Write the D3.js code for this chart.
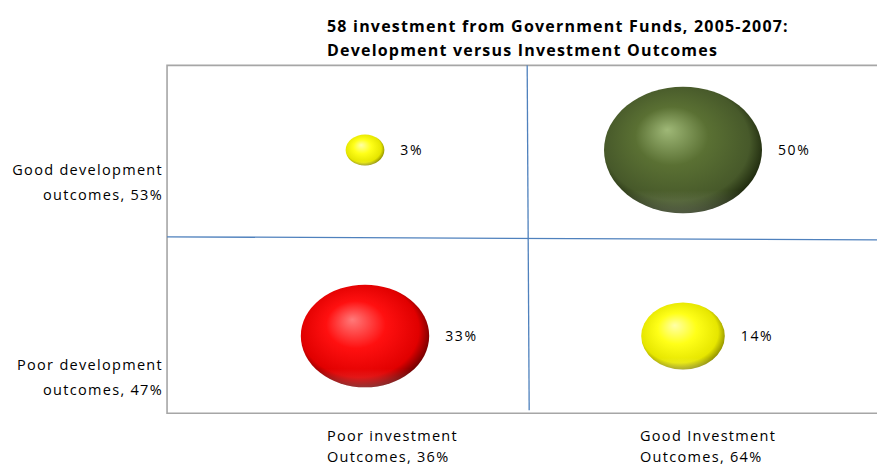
<!DOCTYPE html>
<html>
<head>
<meta charset="utf-8">
<script src="https://cdn.jsdelivr.net/npm/d3@7"></script>
<style>
  html, body { margin: 0; padding: 0; background: #fff; }
  svg { display: block; }
  text { font-family: "Open Sans", sans-serif; fill: #000; }
</style>
</head>
<body>
<script>
// Bubble data: position in the 2x2 grid and share of the 58 investments
const labels = ["3%", "50%", "33%", "14%"];
const shares = [3, 50, 33, 14];
const investX = [1, 3, 1, 3];      // 1 = poor investment outcome, 3 = good
const developY = [3, 3, 1, 1];     // 3 = good development outcome, 1 = poor
const colors = ["yellow", "olive", "red", "yellow"];

const titleLines = [
  "58 investment from Government Funds, 2005-2007:",
  "Development versus Investment Outcomes"
];
const rowLabels = [
  ["Good development", "outcomes, 53%"],
  ["Poor development", "outcomes, 47%"]
];
const rowLabelY = [3, 1];
const colLabels = [
  ["Poor investment", "Outcomes, 36%"],
  ["Good Investment", "Outcomes, 64%"]
];
const colLabelX = [1, 3];
const crossing = { x: 2.02, y: 2.05 };

const W = 877, H = 465;
const svg = d3.select("body").append("svg").attr("width", W).attr("height", H);

const x = d3.scaleLinear().domain([0, 4]).range([206, 842]);
const y = d3.scaleLinear().domain([0, 4]).range([429, 57]);
const xDom = [-0.245, 4.6];
const yDom = [0.17, 3.91];
const r = d3.scaleSqrt().domain([0, 50]).range([0, 79]);
const squash = 0.8;

// sphere shading
const palette = {
  olive:  { hi: "#9fb877", mid: "#5a7033", lo: "#47592a", edge: "#1f2a0e" },
  red:    { hi: "#ff7a7a", mid: "#ff1010", lo: "#e00000", edge: "#700000" },
  yellow: { hi: "#ffffa8", mid: "#ffff18", lo: "#e6e600", edge: "#8f8f00" }
};
const defs = svg.append("defs");
Object.entries(palette).forEach(([k, p]) => {
  const g = defs.append("radialGradient").attr("id", "sph-" + k)
    .attr("cx", "47%").attr("cy", "46%").attr("r", "55%")
    .attr("fx", "40%").attr("fy", "34%");
  g.append("stop").attr("offset", "0%").attr("stop-color", p.hi);
  g.append("stop").attr("offset", "42%").attr("stop-color", p.mid);
  g.append("stop").attr("offset", "84%").attr("stop-color", p.lo);
  g.append("stop").attr("offset", "100%").attr("stop-color", p.edge);
});
const refl = defs.append("linearGradient").attr("id", "refl")
  .attr("x1", 0).attr("y1", 0).attr("x2", 0).attr("y2", 1);
refl.append("stop").attr("offset", "0%").attr("stop-color", "#fff").attr("stop-opacity", 0);
refl.append("stop").attr("offset", "82%").attr("stop-color", "#fff").attr("stop-opacity", 0);
refl.append("stop").attr("offset", "100%").attr("stop-color", "#fff").attr("stop-opacity", 0.2);

// plot frame (open on the right)
svg.append("path")
  .attr("d", `M${W + 5},${y(yDom[1])}H${x(xDom[0])}V${y(yDom[0])}H${W + 5}`)
  .attr("fill", "none").attr("stroke", "#a6a6a6").attr("stroke-width", 1.6);

// quadrant dividers
svg.append("line")
  .attr("x1", x(crossing.x)).attr("x2", x(crossing.x) + 2)
  .attr("y1", y(yDom[1])).attr("y2", y(yDom[0]) - 3)
  .attr("stroke", "#4f81bd").attr("stroke-width", 1.3);
svg.append("line")
  .attr("x1", x(xDom[0])).attr("x2", W)
  .attr("y1", y(crossing.y) - 1.5).attr("y2", y(crossing.y) + 1.5)
  .attr("stroke", "#4f81bd").attr("stroke-width", 1.3);

// bubbles
const bubbles = svg.append("g").selectAll("g").data(shares).join("g");
bubbles.append("ellipse")
  .attr("cx", (d, i) => x(investX[i]))
  .attr("cy", (d, i) => y(developY[i]))
  .attr("rx", d => r(d))
  .attr("ry", d => r(d) * squash)
  .attr("fill", (d, i) => `url(#sph-${colors[i]})`);
bubbles.append("ellipse")
  .attr("cx", (d, i) => x(investX[i]))
  .attr("cy", (d, i) => y(developY[i]))
  .attr("rx", d => r(d))
  .attr("ry", d => r(d) * squash)
  .attr("fill", "url(#refl)");
bubbles.append("text")
  .attr("x", (d, i) => x(investX[i]) + r(d) + 16)
  .attr("y", (d, i) => y(developY[i]) + 5)
  .attr("font-size", 14).style("letter-spacing", "1.6px")
  .text((d, i) => labels[i]);

// title
svg.append("g").selectAll("text").data(titleLines).join("text")
  .attr("x", 327).attr("y", (d, i) => 32 + i * 24)
  .attr("font-size", 16).attr("font-weight", 700).style("letter-spacing", "1.2px")
  .text(d => d);

// row labels
rowLabels.forEach((lines, j) => {
  svg.append("g").selectAll("text").data(lines).join("text")
    .attr("x", 163)
    .attr("y", (d, i) => y(rowLabelY[j]) + (j === 0 ? 25 : 34) + i * 25)
    .attr("text-anchor", "end")
    .attr("font-size", 14.5).style("letter-spacing", "1.3px")
    .text(d => d);
});

// column labels
colLabels.forEach((lines, j) => {
  svg.append("g").selectAll("text").data(lines).join("text")
    .attr("x", x(colLabelX[j]) - (j === 0 ? 38 : 43))
    .attr("y", (d, i) => 441 + i * 21)
    .attr("font-size", 14.5).style("letter-spacing", "1.3px")
    .text(d => d);
});
</script>
</body>
</html>
